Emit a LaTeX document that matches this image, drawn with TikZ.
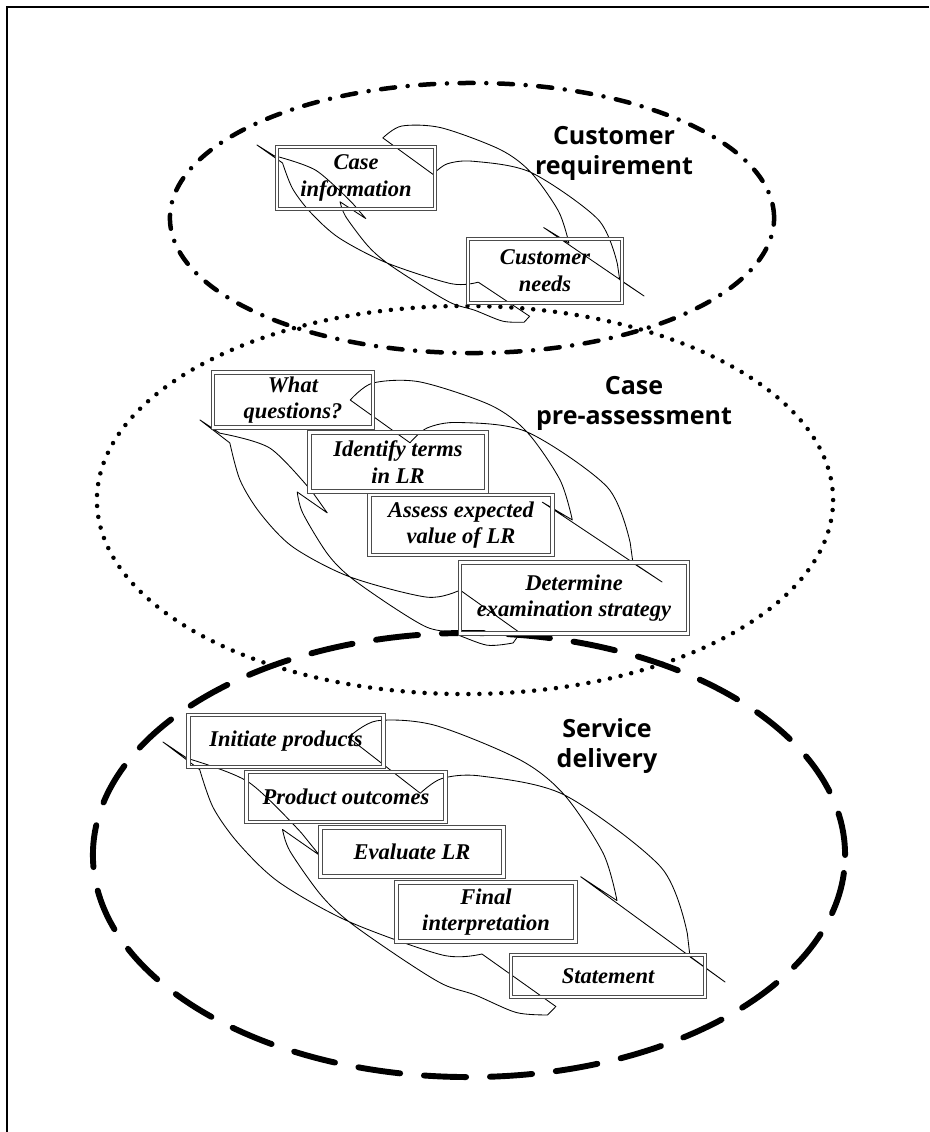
\documentclass[tikz,border=0pt]{standalone}
\usepackage{fontspec}
\setmainfont{Liberation Serif}
\newfontfamily\stagefont{Open Sans}

\tikzset{
  stage/.style={font=\stagefont\bfseries\fontsize{17.8}{21.3}\selectfont, align=center},
  task/.style={draw=black!70, line width=0.75pt, double=white, double distance=1.5pt,
    inner sep=0pt, align=center, font=\bfseries\itshape\fontsize{16}{19}\selectfont},
  cyclearrow/.style={line width=0.6pt, line join=round},
  dashdot ring/.style={line width=3.2pt, line cap=round, dash pattern=on 10pt off 9pt on 0pt off 9pt},
  dot ring/.style={line width=3.2pt, line cap=round, dash pattern=on 0pt off 7.8pt},
  dash ring/.style={line width=4.2pt, line cap=round, dash pattern=on 30pt off 17pt},
}

% two twisted curved arrows of one cycle; #1, #2 = side vectors of the right and left arrow
\newcommand{\cyclearrows}[2]{%
  \draw[cyclearrow, y={#1}] plot[smooth] coordinates {(0.276,0.140) (0.308,0.188) (0.398,0.222) (0.549,0.225) (0.638,0.198) (0.734,0.128) (0.785,0.059)}
    -- (0.715,0.073) -- (1,0) -- (0.931,0.017)
    -- plot[smooth] coordinates {(0.912,0.054) (0.830,0.146) (0.638,0.198) (0.500,0.170) (0.443,0.138) (0.420,0.098)} -- cycle;
  \draw[cyclearrow, y={#2}] (0,0) -- plot[smooth] coordinates {(0.073,-0.024) (0.118,-0.089) (0.179,-0.139) (0.265,-0.182) (0.395,-0.201) (0.557,-0.188) (0.616,-0.152)}
    -- (0.761,-0.194)
    -- plot[smooth] coordinates {(0.754,-0.218) (0.705,-0.240) (0.632,-0.240) (0.577,-0.246) (0.498,-0.230) (0.395,-0.201) (0.335,-0.171) (0.261,-0.110) (0.236,-0.073)}
    -- (0.308,-0.093)
    -- plot[smooth] coordinates {(0.267,-0.064) (0.154,-0.007) (0.047,-0.012)} -- cycle;
}

\begin{document}
\begin{tikzpicture}[x=0.025cm, y=-0.025cm]
	\useasboundingbox (0,0) rectangle (929,1132);
	\draw[line width=1.2pt] (929,7) -- (7,7) -- (7,1132);

	% rings
	\draw[dashdot ring] (472,218) ellipse [x radius=7.55cm, y radius=3.375cm];
	\draw[dot ring] (465,500) ellipse [x radius=9.2cm, y radius=4.85cm];
	\draw[dash ring] (469,855) ellipse [x radius=9.4cm, y radius=5.55cm];

	% cycles
	\begin{scope}[shift={(257,145)}, x={(9.675cm,-3.775cm)}]
		\cyclearrows{(3.398cm,8.708cm)}{(2.831cm,7.256cm)}
	\end{scope}
	\begin{scope}[shift={(200,420)}, x={(11.55cm,-4.05cm)}]
		\cyclearrows{(4.05cm,11.55cm)}{(4.05cm,11.55cm)}
	\end{scope}
	\begin{scope}[shift={(163,742)}, x={(14.05cm,-6cm)}]
		\cyclearrows{(5.4cm,12.645cm)}{(4.5cm,10.54cm)}
	\end{scope}

	% customer requirement
	\node[stage] (custreq) at (614,153) {Customer\\requirement};
	\node[task, minimum width=3.93cm, minimum height=1.55cm] (caseinfo) at (356,178) {Case\\information};
	\node[task, minimum width=3.85cm, minimum height=1.6cm] (custneeds) at (545,271) {Customer\\needs};

	% case pre-assessment
	\node[stage] (casepre) at (634,403) {Case\\pre-assessment};
	\node[task, minimum width=4cm, minimum height=1.375cm] (whatq) at (293,400) {What\\questions?};
	\node[task, minimum width=4.425cm, minimum height=1.475cm] (identify) at (398,462) {Identify terms\\in LR};
	\node[task, minimum width=4.575cm, minimum height=1.5cm] (assess) at (461,525) {Assess expected\\value of LR};
	\node[task, minimum width=5.7cm, minimum height=1.775cm] (determine) at (574,598) {Determine\\examination strategy};

	% service delivery
	\node[stage] (service) at (607,746) {Service\\delivery};
	\node[task, minimum width=4.875cm, minimum height=1.3cm] (initiate) at (286,741) {Initiate products};
	\node[task, minimum width=4.975cm, minimum height=1.25cm] (outcomes) at (346,797) {Product outcomes};
	\node[task, minimum width=4.575cm, minimum height=1.225cm] (evaluate) at (412,852) {Evaluate LR};
	\node[task, minimum width=4.475cm, minimum height=1.475cm] (final) at (486,912) {Final\\interpretation};
	\node[task, minimum width=4.85cm, minimum height=1.05cm] (statement) at (608,976) {Statement};
\end{tikzpicture}
\end{document}
